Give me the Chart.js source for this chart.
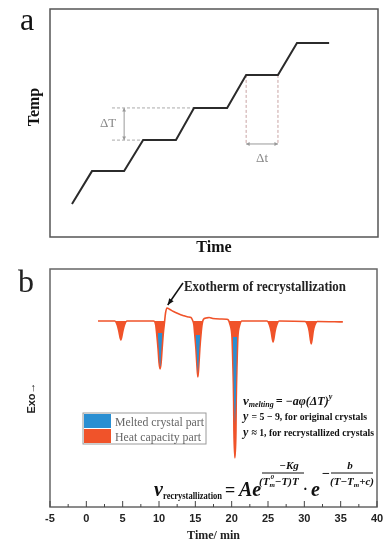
<!DOCTYPE html>
<html lang="en">
  <head>
    <meta charset="UTF-8" />
    <title>Stepwise annealing and DSC</title>
    <script src="https://cdn.jsdelivr.net/npm/chart.js"></script>
    <style>
      html,
      body {
        margin: 0;
        padding: 0;
        background: #fff;
      }
      .panel {
        position: absolute;
        left: 0;
        width: 390px;
      }
      #panelA {
        top: 0;
        height: 260px;
      }
      #panelB {
        top: 260px;
        height: 286px;
      }
    </style>
  </head>
  <body>
    <div class="panel" id="panelA"><canvas id="stepChart" width="390" height="260"></canvas></div>
    <div class="panel" id="panelB"><canvas id="dscChart" width="390" height="286"></canvas></div>

    <script>
      // Panel a - stepwise temperature program (arbitrary units 0..100)
      const stepTime = [6.7, 12.8, 22.6, 28.4, 38.4, 43.9, 54.0, 59.8, 69.5, 75.3, 85.1];
      const stepTemp = [14.5, 28.9, 28.9, 42.5, 42.5, 56.6, 56.6, 71.1, 71.1, 85.1, 85.1];
      const guideStart = 18.9; // left end of the ΔT dashes
      const dtLevel = 40.8; // height of the Δt arrow

      // Panel b - DSC trace (time in min, heat flow in arbitrary units, exo up)
      const dscTime = [
        1.6, 3.9, 4.25, 4.47, 4.75, 5.03, 5.25, 5.6,
        9.25, 9.55, 9.67, 9.87, 10.01, 10.15, 10.29, 10.43, 10.6, 10.75, 10.9, 11.1, 11.5, 12.0, 12.6, 13.3, 14.0, 14.4,
        14.6, 14.8, 14.9, 15.08, 15.22, 15.35, 15.48, 15.62, 15.8, 15.92, 16.1,
        16.5, 16.9, 17.4, 18.5, 19.3,
        19.55, 19.75, 19.97, 20.04, 20.15, 20.27, 20.31, 20.45, 20.59, 20.63, 20.75, 20.86, 20.93, 21.15, 21.35,
        24.85, 25.2, 25.42, 25.7, 25.98, 26.2, 26.55,
        30.1, 30.45, 30.67, 30.95, 31.23, 31.45, 31.8,
        35.3,
      ];
      const dscHeat = [
        0, 0, -4, -10, -19, -10, -4, 0,
        0, -4, -12, -28, -42, -48, -42, -28, -12, -2, 8, 13, 11.5, 9.5, 7.5, 5.5, 4, 3.5,
        1, -4, -12, -28, -45, -56, -45, -28, -12, -4, 1.5,
        3, 3.5, 2.5, 2, 1.8,
        1, -3, -10, -16, -40, -80, -110, -137, -110, -80, -40, -16, -10, -3, 0,
        0, -4, -10, -21, -10, -4, 0,
        -0.5, -4, -10, -23, -10, -4, -0.5,
        -1,
      ];

      // melted crystal part inside the three big peaks
      const melt10Time = [9.82, 9.98, 10.09, 10.15, 10.21, 10.32, 10.48];
      const melt10Heat = [-12, -28, -42, -45, -42, -28, -12];
      const melt15Time = [15.02, 15.16, 15.28, 15.35, 15.42, 15.54, 15.68];
      const melt15Heat = [-14, -28, -45, -52, -45, -28, -14];
      const melt20Time = [20.16, 20.23, 20.33, 20.45, 20.57, 20.67, 20.74];
      const melt20Heat = [-16, -40, -80, -104, -80, -40, -16];

      const xTicks = [-5, 0, 5, 10, 15, 20, 25, 30, 35, 40];

      const RED = "#f0532a";
      const BLUE = "#2a8fd2";
      const SERIF = '"Liberation Serif", "DejaVu Serif", serif';

      function pts(xs, ys) {
        return xs.map((v, i) => ({ x: v, y: ys[i] }));
      }

      function arrowHead(ctx, x1, y1, x2, y2, size, spread) {
        const ang = Math.atan2(y2 - y1, x2 - x1);
        ctx.beginPath();
        ctx.moveTo(x2, y2);
        ctx.lineTo(x2 - size * Math.cos(ang - spread), y2 - size * Math.sin(ang - spread));
        ctx.lineTo(x2 - size * Math.cos(ang + spread), y2 - size * Math.sin(ang + spread));
        ctx.closePath();
        ctx.fill();
      }

      // draws text pieces one after another on one baseline
      function drawRun(ctx, x, y, pieces) {
        pieces.forEach((p) => {
          ctx.font = p.font;
          ctx.fillText(p.text, x, y + (p.dy || 0));
          x += ctx.measureText(p.text).width + (p.gap || 0);
        });
        return x;
      }

      // ---------- panel a ----------
      const stepDecor = {
        id: "stepDecor",
        afterDraw(chart) {
          const { ctx, chartArea: a, scales } = chart;
          const x = scales.x, y = scales.y;
          ctx.save();
          ctx.strokeStyle = "#555";
          ctx.lineWidth = 1.5;
          ctx.strokeRect(a.left, a.top, a.right - a.left, a.bottom - a.top);

          // ΔT arrow
          ctx.strokeStyle = "#999";
          ctx.fillStyle = "#999";
          ctx.lineWidth = 1;
          const ax = x.getPixelForValue(stepTime[2]);
          const y1 = y.getPixelForValue(stepTemp[5]);
          const y2 = y.getPixelForValue(stepTemp[3]);
          ctx.beginPath();
          ctx.moveTo(ax, y1);
          ctx.lineTo(ax, y2);
          ctx.stroke();
          arrowHead(ctx, ax, y2, ax, y1, 4, 0.5);
          arrowHead(ctx, ax, y1, ax, y2, 4, 0.5);

          // Δt arrow
          const bx1 = x.getPixelForValue(stepTime[7]);
          const bx2 = x.getPixelForValue(stepTime[8]);
          const by = y.getPixelForValue(dtLevel);
          ctx.beginPath();
          ctx.moveTo(bx1, by);
          ctx.lineTo(bx2, by);
          ctx.stroke();
          arrowHead(ctx, bx2, by, bx1, by, 4, 0.5);
          arrowHead(ctx, bx1, by, bx2, by, 4, 0.5);

          ctx.fillStyle = "#888";
          ctx.font = "13px " + SERIF;
          ctx.textAlign = "center";
          ctx.textBaseline = "middle";
          ctx.fillText("ΔT", ax - 16, (y1 + y2) / 2);
          ctx.fillText("Δt", (bx1 + bx2) / 2, by + 15);

          ctx.fillStyle = "#111";
          ctx.textBaseline = "alphabetic";
          ctx.font = "bold 16px " + SERIF;
          ctx.fillText("Time", (a.left + a.right) / 2, 252);
          ctx.save();
          ctx.translate(39, 107);
          ctx.rotate(-Math.PI / 2);
          ctx.fillText("Temp", 0, 0);
          ctx.restore();

          ctx.textAlign = "left";
          ctx.font = "32px " + SERIF;
          ctx.fillText("a", 20, 30);
          ctx.restore();
        },
      };

      new Chart(document.getElementById("stepChart"), {
        type: "line",
        data: {
          datasets: [
            {
              data: pts(stepTime, stepTemp),
              borderColor: "#2b2b2b",
              borderWidth: 2,
              pointRadius: 0,
              tension: 0,
            },
            {
              data: pts([guideStart, stepTime[5]], [stepTemp[5], stepTemp[5]]),
              borderColor: "#aaa",
              borderWidth: 1,
              borderDash: [3, 2],
              pointRadius: 0,
            },
            {
              data: pts([guideStart, stepTime[3]], [stepTemp[3], stepTemp[3]]),
              borderColor: "#aaa",
              borderWidth: 1,
              borderDash: [3, 2],
              pointRadius: 0,
            },
            {
              data: pts([stepTime[7], stepTime[7]], [stepTemp[7], dtLevel]),
              borderColor: "#c9a3a3",
              borderWidth: 1,
              borderDash: [3, 2],
              pointRadius: 0,
            },
            {
              data: pts([stepTime[8], stepTime[8]], [stepTemp[8], dtLevel]),
              borderColor: "#c9a3a3",
              borderWidth: 1,
              borderDash: [3, 2],
              pointRadius: 0,
            },
          ],
        },
        options: {
          responsive: false,
          animation: false,
          layout: { padding: { left: 50, right: 12, top: 9, bottom: 23 } },
          plugins: { legend: { display: false }, tooltip: { enabled: false } },
          scales: {
            x: { type: "linear", min: 0, max: 100, display: false },
            y: { type: "linear", min: 0, max: 100, display: false },
          },
        },
        plugins: [stepDecor],
      });

      // ---------- panel b ----------
      const dscDecor = {
        id: "dscDecor",
        afterDraw(chart) {
          const { ctx, chartArea: a, scales } = chart;
          const x = scales.x, y = scales.y;
          ctx.save();
          ctx.strokeStyle = "#666";
          ctx.lineWidth = 1.5;
          ctx.strokeRect(a.left, a.top, a.right - a.left, a.bottom - a.top);

          // inner ticks on the time axis
          ctx.lineWidth = 1;
          ctx.strokeStyle = "#444";
          xTicks.forEach((v, i) => {
            const px = x.getPixelForValue(v);
            ctx.beginPath();
            ctx.moveTo(px, a.bottom);
            ctx.lineTo(px, a.bottom - 6);
            ctx.stroke();
            if (i < xTicks.length - 1) {
              const mx = x.getPixelForValue((v + xTicks[i + 1]) / 2);
              ctx.beginPath();
              ctx.moveTo(mx, a.bottom);
              ctx.lineTo(mx, a.bottom - 3);
              ctx.stroke();
            }
          });
          ctx.fillStyle = "#222";
          ctx.font = 'bold 11px "Liberation Sans", Arial, sans-serif';
          ctx.textAlign = "center";
          ctx.textBaseline = "middle";
          xTicks.forEach((v) => ctx.fillText(String(v), x.getPixelForValue(v), a.bottom + 12));

          ctx.textBaseline = "alphabetic";
          ctx.font = "bold 12px " + SERIF;
          ctx.fillText("Time/ min", (a.left + a.right) / 2, 279);

          ctx.save();
          ctx.translate(35, 138);
          ctx.rotate(-Math.PI / 2);
          ctx.font = 'bold 11px "Liberation Sans", Arial, sans-serif';
          ctx.fillText("Exo→", 0, 0);
          ctx.restore();

          ctx.textAlign = "left";
          ctx.font = "32px " + SERIF;
          ctx.fillText("b", 18, 32);

          // exotherm annotation
          ctx.font = "bold 14px " + SERIF;
          ctx.fillText("Exotherm of recrystallization", 184, 31, 162);
          const tipX = x.getPixelForValue(11.2), tipY = y.getPixelForValue(16);
          ctx.strokeStyle = "#111";
          ctx.fillStyle = "#111";
          ctx.lineWidth = 1.5;
          ctx.beginPath();
          ctx.moveTo(183, 23);
          ctx.lineTo(tipX, tipY);
          ctx.stroke();
          arrowHead(ctx, 183, 23, tipX, tipY, 7, 0.4);

          // legend
          ctx.strokeStyle = "#9a9a9a";
          ctx.lineWidth = 1;
          ctx.strokeRect(83, 153, 123, 31);
          ctx.fillStyle = BLUE;
          ctx.fillRect(84, 154, 27, 14);
          ctx.fillStyle = RED;
          ctx.fillRect(84, 169, 27, 14);
          ctx.fillStyle = "#666";
          ctx.font = "13px " + SERIF;
          ctx.fillText("Melted crystal part", 115, 166, 89);
          ctx.fillText("Heat capacity part", 115, 181, 86);

          // melting rate relations
          ctx.fillStyle = "#111";
          const bI = (s) => "italic bold " + s + "px " + SERIF;
          const bN = (s) => "bold " + s + "px " + SERIF;
          drawRun(ctx, 243, 145, [
            { text: "v", font: bI(13) },
            { text: "melting", font: bI(8), dy: 2, gap: 2 },
            { text: "= −aφ(ΔT)", font: bI(12) },
            { text: "y", font: bI(8), dy: -6 },
          ]);
          ctx.font = bI(12);
          ctx.fillText("y", 243, 160);
          ctx.font = bN(11);
          ctx.fillText(" = 5 − 9, for original crystals", 249, 160, 118);
          ctx.font = bI(12);
          ctx.fillText("y", 243, 176);
          ctx.font = bN(11);
          ctx.fillText(" ≈ 1, for recrystallized crystals", 249, 176, 125);

          // recrystallization rate
          ctx.font = bI(20);
          ctx.fillText("v", 154, 236);
          ctx.font = bN(10);
          ctx.fillText("recrystallization", 163, 239, 59);
          ctx.font = bN(18);
          ctx.fillText("=", 225, 236);
          ctx.font = bI(20);
          ctx.fillText("Ae", 239, 236);
          ctx.fillText("e", 311, 236);
          ctx.font = bN(14);
          ctx.fillText("·", 303, 234);
          ctx.fillText("−", 322, 218);

          ctx.lineWidth = 1;
          ctx.strokeStyle = "#111";
          ctx.beginPath();
          ctx.moveTo(262, 213);
          ctx.lineTo(304, 213);
          ctx.moveTo(331, 213);
          ctx.lineTo(373, 213);
          ctx.stroke();

          ctx.textAlign = "center";
          ctx.font = bI(11);
          ctx.fillText("−Kg", 289, 209);
          ctx.fillText("b", 350, 209);
          ctx.textAlign = "left";
          const mX = drawRun(ctx, 259, 225, [{ text: "(T", font: bI(11) }]);
          drawRun(ctx, mX, 225, [
            { text: "m", font: bI(7), dy: 2 },
            { text: "−T)T", font: bI(11) },
          ]);
          ctx.font = bI(7);
          ctx.fillText("0", mX + 1, 219);
          drawRun(ctx, 330, 225, [
            { text: "(T−T", font: bI(11) },
            { text: "m", font: bI(7), dy: 2 },
            { text: "+c)", font: bI(11) },
          ]);
          ctx.restore();
        },
      };

      new Chart(document.getElementById("dscChart"), {
        type: "line",
        data: {
          datasets: [
            {
              label: "Melted crystal part",
              data: pts(melt10Time, melt10Heat),
              borderWidth: 0,
              pointRadius: 0,
              backgroundColor: BLUE,
              fill: { value: melt10Heat[0] },
            },
            {
              label: "Melted crystal part",
              data: pts(melt15Time, melt15Heat),
              borderWidth: 0,
              pointRadius: 0,
              backgroundColor: BLUE,
              fill: { value: melt15Heat[0] },
            },
            {
              label: "Melted crystal part",
              data: pts(melt20Time, melt20Heat),
              borderWidth: 0,
              pointRadius: 0,
              backgroundColor: BLUE,
              fill: { value: melt20Heat[0] },
            },
            {
              label: "DSC trace",
              data: pts(dscTime, dscHeat),
              borderColor: RED,
              borderWidth: 1.6,
              pointRadius: 0,
              fill: false,
              cubicInterpolationMode: "monotone",
            },
            {
              label: "Heat capacity part",
              data: pts(dscTime, dscHeat),
              borderWidth: 0,
              borderColor: "transparent",
              pointRadius: 0,
              cubicInterpolationMode: "monotone",
              fill: { target: { value: 0 }, above: "transparent", below: RED },
            },
          ],
        },
        options: {
          responsive: false,
          animation: false,
          layout: { padding: { left: 50, right: 13, top: 9, bottom: 39 } },
          plugins: { legend: { display: false }, tooltip: { enabled: false } },
          scales: {
            x: { type: "linear", min: -5, max: 40, display: false },
            y: { type: "linear", min: -186, max: 52, display: false },
          },
        },
        plugins: [dscDecor],
      });
    </script>
  </body>
</html>
